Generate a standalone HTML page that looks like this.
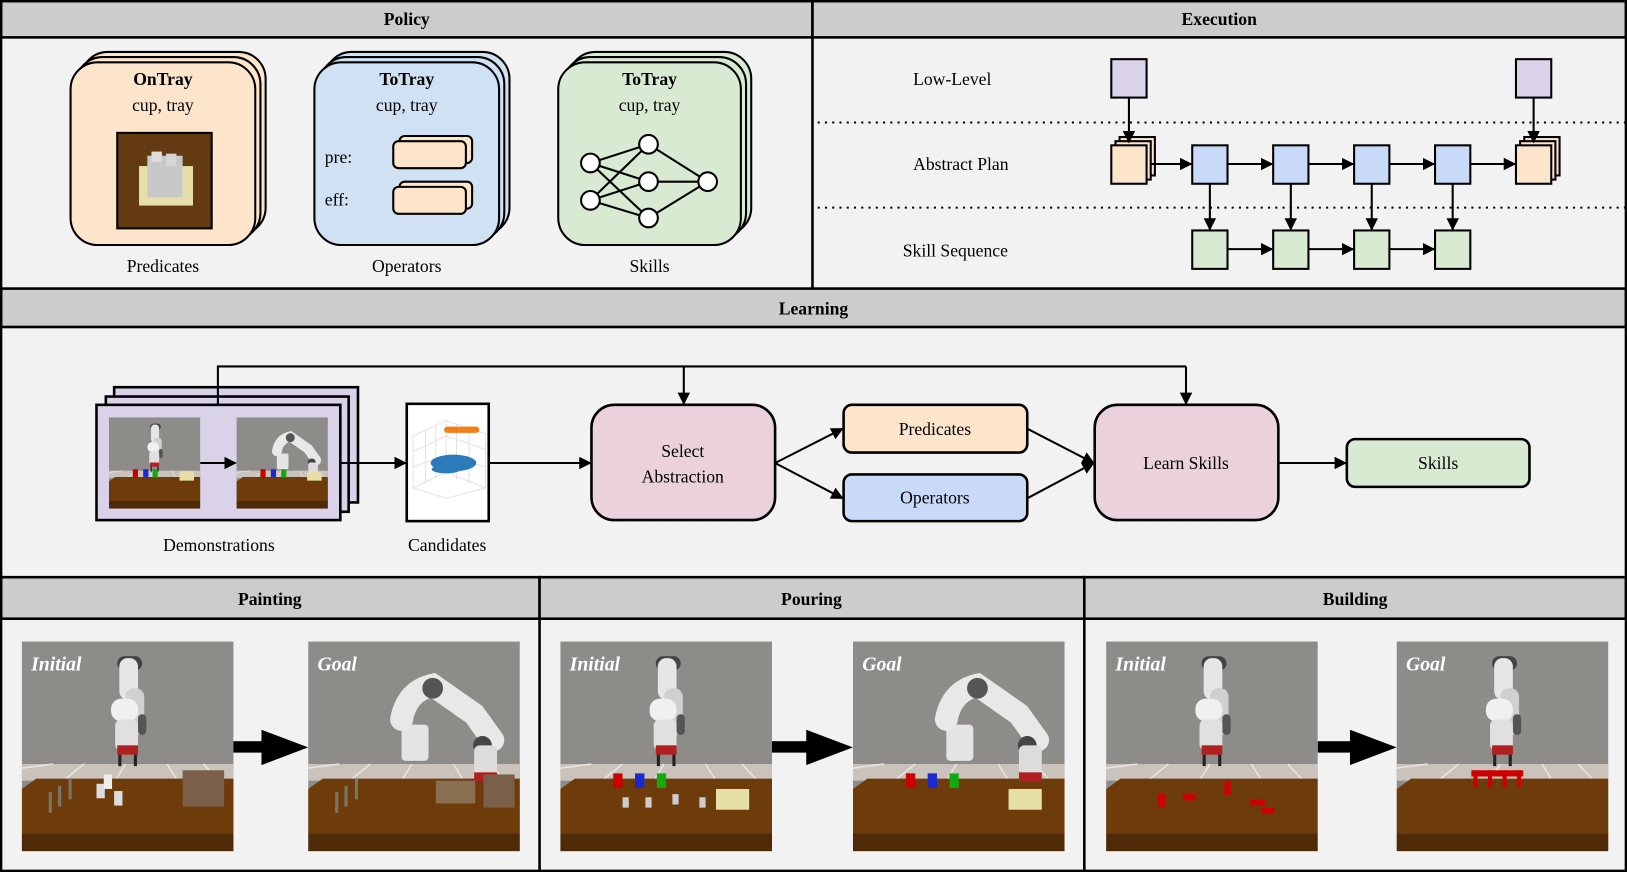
<!DOCTYPE html>
<html><head><meta charset="utf-8"><style>
html,body{margin:0;padding:0;background:#f2f2f2}
svg{display:block}
text{font-family:"Liberation Serif",serif;fill:#000}
</style></head><body>
<svg width="1627" height="872" viewBox="0 0 1568 840" preserveAspectRatio="none" xmlns="http://www.w3.org/2000/svg">
<defs>
<marker id="ah" viewBox="0 0 10 10" refX="9" refY="5" markerWidth="6" markerHeight="6" orient="auto"><path d="M0,0 L10,5 L0,10 z" fill="#000"/></marker>
<symbol id="bg" viewBox="0 0 204 202" preserveAspectRatio="none">
<rect width="204" height="202" fill="#8e8c89"/>
<rect y="118" width="204" height="16" fill="#c9c3bc"/>
<path d="M0,122 L30,118 M40,134 L60,118 M90,134 L100,118 M150,134 L140,118 M190,134 L175,118" stroke="#e8e4df" stroke-width="1.5"/>
<path d="M14,132 L204,132 L204,185 L0,185 L0,142 z" fill="#6e3b0a"/>
<rect y="185" width="204" height="17" fill="#4f2a07"/>
</symbol>
<symbol id="robotUp" viewBox="0 0 204 202" preserveAspectRatio="none">
<rect x="92" y="14" width="24" height="14" rx="7" fill="#444"/>
<rect x="94" y="16" width="18" height="40" rx="8" fill="#e6e6e6"/>
<rect x="100" y="45" width="18" height="45" rx="8" fill="#d0d0d0"/>
<rect x="112" y="70" width="8" height="20" rx="4" fill="#555"/>
<rect x="86" y="55" width="26" height="22" rx="10" fill="#f0f0f0"/>
<rect x="90" y="75" width="22" height="30" rx="6" fill="#e0e0e0"/>
<rect x="92" y="100" width="20" height="9" fill="#b02020"/>
<rect x="93" y="109" width="3" height="11" fill="#222"/><rect x="108" y="109" width="3" height="11" fill="#222"/>
</symbol>
<symbol id="robotBent" viewBox="0 0 204 202" preserveAspectRatio="none">
<rect x="90" y="80" width="26" height="35" rx="4" fill="#e4e4e4"/>
<path d="M90,75 Q95,48 120,42 L160,70 L178,95" stroke="#e8e8e8" stroke-width="22" fill="none" stroke-linecap="round"/>
<circle cx="120" cy="45" r="10" fill="#555"/>
<circle cx="168" cy="100" r="9" fill="#444"/>
<rect x="160" y="100" width="22" height="28" rx="5" fill="#dcdcdc"/>
<rect x="160" y="126" width="22" height="9" fill="#b02020"/>
</symbol>
</defs>

<rect x="0" y="0" width="1568" height="840" fill="#f2f2f2"/>
<g fill="#cccccc" stroke="#000" stroke-width="2.5">
<rect x="1" y="1" width="782" height="35"/><rect x="783" y="1" width="784" height="35"/>
<rect x="1" y="278" width="1566" height="37"/>
<rect x="1" y="556" width="519" height="40"/><rect x="520" y="556" width="525" height="40"/><rect x="1045" y="556" width="522" height="40"/>
</g>
<g stroke="#000" stroke-width="2.5" fill="none">
<rect x="1" y="1" width="1566" height="838"/>
<line x1="783" y1="36" x2="783" y2="278"/>
<line x1="520" y1="596" x2="520" y2="839"/><line x1="1045" y1="596" x2="1045" y2="839"/>
</g>
<g font-weight="bold" font-size="17" text-anchor="middle">
<text x="392" y="24">Policy</text><text x="1175" y="24">Execution</text>
<text x="784" y="303">Learning</text>
<text x="260" y="583">Painting</text><text x="782" y="583">Pouring</text><text x="1306" y="583">Building</text>
</g>

<g stroke="#000" stroke-width="2">
<g fill="#fde5cc">
<rect x="78" y="50" width="178" height="176" rx="26"/><rect x="73" y="55" width="178" height="176" rx="26"/><rect x="68" y="60" width="178" height="176" rx="26"/>
</g>
<g fill="#cfe1f3">
<rect x="313" y="50" width="178" height="176" rx="26"/><rect x="308" y="55" width="178" height="176" rx="26"/><rect x="303" y="60" width="178" height="176" rx="26"/>
</g>
<g fill="#d9ead3">
<rect x="548" y="50" width="176" height="176" rx="26"/><rect x="543" y="55" width="176" height="176" rx="26"/><rect x="538" y="60" width="176" height="176" rx="26"/>
</g>
</g>
<g font-size="17" text-anchor="middle">
<text x="157" y="82" font-weight="bold">OnTray</text><text x="157" y="107">cup, tray</text>
<text x="392" y="82" font-weight="bold">ToTray</text><text x="392" y="107">cup, tray</text>
<text x="626" y="82" font-weight="bold">ToTray</text><text x="626" y="107">cup, tray</text>
<text x="157" y="262">Predicates</text><text x="392" y="262">Operators</text><text x="626" y="262">Skills</text>
</g>
<rect x="113" y="128" width="91" height="92" fill="#633a12" stroke="#000" stroke-width="2"/>
<rect x="134" y="160" width="52" height="38" fill="#e6e0a8"/>
<rect x="142" y="150" width="34" height="40" fill="#c8c8c8"/><rect x="146" y="146" width="10" height="10" fill="#ddd"/><rect x="160" y="148" width="10" height="12" fill="#d6d6d6"/>
<g font-size="17"><text x="313" y="157">pre:</text><text x="313" y="198">eff:</text></g>
<g fill="#fde5cc" stroke="#000" stroke-width="2">
<rect x="385" y="131" width="70" height="26" rx="5"/><rect x="379" y="136" width="70" height="26" rx="5"/>
<rect x="385" y="175" width="70" height="26" rx="5"/><rect x="379" y="180" width="70" height="26" rx="5"/>
</g>
<g stroke="#000" stroke-width="2">
<line x1="569" y1="157" x2="625" y2="139"/><line x1="569" y1="157" x2="625" y2="175"/><line x1="569" y1="157" x2="625" y2="210"/>
<line x1="569" y1="193" x2="625" y2="139"/><line x1="569" y1="193" x2="625" y2="175"/><line x1="569" y1="193" x2="625" y2="210"/>
<line x1="625" y1="139" x2="682" y2="175"/><line x1="625" y1="175" x2="682" y2="175"/><line x1="625" y1="210" x2="682" y2="175"/>
<g fill="#fff"><circle cx="569" cy="157" r="9"/><circle cx="569" cy="193" r="9"/><circle cx="625" cy="139" r="9"/><circle cx="625" cy="175" r="9"/><circle cx="625" cy="210" r="9"/><circle cx="682" cy="175" r="9"/></g>
</g>

<!-- Execution -->
<g font-size="17"><text x="880" y="82">Low-Level</text><text x="880" y="164">Abstract Plan</text><text x="870" y="247">Skill Sequence</text></g>
<g stroke="#000" stroke-width="2" stroke-dasharray="2,5"><line x1="788" y1="118" x2="1568" y2="118"/><line x1="788" y1="200" x2="1568" y2="200"/></g>
<g stroke="#000" stroke-width="2">
<g fill="#d9d2e9"><rect x="1071" y="57" width="34" height="37"/><rect x="1461" y="57" width="34" height="37"/></g>
<g fill="#fde5cc"><rect x="1079" y="132" width="34" height="37"/><rect x="1075" y="136" width="34" height="37"/><rect x="1071" y="140" width="34" height="37"/>
<rect x="1469" y="132" width="34" height="37"/><rect x="1465" y="136" width="34" height="37"/><rect x="1461" y="140" width="34" height="37"/></g>
<g fill="#c9daf8"><rect x="1149" y="140" width="34" height="37"/><rect x="1227" y="140" width="34" height="37"/><rect x="1305" y="140" width="34" height="37"/><rect x="1383" y="140" width="34" height="37"/></g>
<g fill="#d9ead3"><rect x="1149" y="222" width="34" height="37"/><rect x="1227" y="222" width="34" height="37"/><rect x="1305" y="222" width="34" height="37"/><rect x="1383" y="222" width="34" height="37"/></g>
</g>
<g stroke="#000" stroke-width="2" marker-end="url(#ah)">
<line x1="1088" y1="94" x2="1088" y2="137"/><line x1="1478" y1="94" x2="1478" y2="137"/>
<line x1="1109" y1="158" x2="1148" y2="158"/><line x1="1183" y1="158" x2="1226" y2="158"/><line x1="1261" y1="158" x2="1304" y2="158"/><line x1="1339" y1="158" x2="1382" y2="158"/><line x1="1417" y1="158" x2="1460" y2="158"/>
<line x1="1166" y1="177" x2="1166" y2="221"/><line x1="1244" y1="177" x2="1244" y2="221"/><line x1="1322" y1="177" x2="1322" y2="221"/><line x1="1400" y1="177" x2="1400" y2="221"/>
<line x1="1183" y1="240" x2="1226" y2="240"/><line x1="1261" y1="240" x2="1304" y2="240"/><line x1="1339" y1="240" x2="1382" y2="240"/>
</g>

<!-- Learning -->
<g fill="#d9d2e9" stroke="#000" stroke-width="2.5">
<rect x="110" y="373" width="235" height="111"/><rect x="102" y="382" width="234" height="111"/><rect x="93" y="390" width="235" height="111"/>
</g>
<use href="#bg" x="105" y="402" width="88" height="88"/>
<use href="#robotUp" x="105" y="402" width="88" height="88"/>
<use href="#bg" x="228" y="402" width="88" height="88"/>
<use href="#robotBent" x="228" y="402" width="88" height="88"/>
<g><rect x="128" y="452" width="5" height="8" fill="#c00"/><rect x="138" y="452" width="5" height="8" fill="#1a2ad0"/><rect x="147" y="452" width="5" height="8" fill="#1a1"/><rect x="173" y="454" width="14" height="9" fill="#e6e0a8"/>
<rect x="251" y="452" width="5" height="8" fill="#c00"/><rect x="261" y="452" width="5" height="8" fill="#1a2ad0"/><rect x="271" y="452" width="5" height="8" fill="#1a1"/><rect x="296" y="455" width="14" height="8" fill="#e6e0a8"/></g>
<rect x="392" y="389" width="79" height="113" fill="#fff" stroke="#000" stroke-width="2.5"/>
<g stroke="#ddd" stroke-width="0.8" fill="none"><path d="M398,420 L430,405 L468,418 L468,470 L430,480 L398,470 z M398,420 L398,470 M430,405 L430,455 M398,470 L430,455 L468,470 M410,414 L410,465 M420,410 L420,460 M440,408 L440,462 M452,412 L452,466 M398,435 L430,420 L468,433 M398,450 L430,438 L468,450"/></g>
<g fill="#f47f17"><rect x="428" y="411" width="34" height="6" rx="3"/></g>
<g fill="#2b7bba"><ellipse cx="437" cy="446" rx="22" ry="8"/><ellipse cx="430" cy="452" rx="14" ry="4"/></g>
<g font-size="17" text-anchor="middle"><text x="211" y="531">Demonstrations</text><text x="431" y="531">Candidates</text></g>
<g fill="#ead1dc" stroke="#000" stroke-width="2.5"><rect x="570" y="390" width="177" height="111" rx="22"/><rect x="1055" y="390" width="177" height="111" rx="22"/></g>
<rect x="813" y="390" width="177" height="46" rx="8" fill="#fde5cc" stroke="#000" stroke-width="2.5"/>
<rect x="813" y="457" width="177" height="45" rx="8" fill="#c9daf8" stroke="#000" stroke-width="2.5"/>
<rect x="1298" y="423" width="176" height="46" rx="8" fill="#d9ead3" stroke="#000" stroke-width="2.5"/>
<g font-size="17" text-anchor="middle">
<text x="658" y="440">Select</text><text x="658" y="465">Abstraction</text>
<text x="901" y="419">Predicates</text><text x="901" y="485">Operators</text>
<text x="1143" y="452">Learn Skills</text><text x="1386" y="452">Skills</text>
</g>
<g stroke="#000" stroke-width="2" fill="none">
<polyline points="210,390 210,353 1143,353"/>
</g>
<g stroke="#000" stroke-width="2" marker-end="url(#ah)">
<line x1="659" y1="353" x2="659" y2="389"/><line x1="1143" y1="353" x2="1143" y2="389"/>
<line x1="193" y1="446" x2="227" y2="446"/>
<line x1="328" y1="446" x2="391" y2="446"/>
<line x1="471" y1="446" x2="569" y2="446"/>
<line x1="747" y1="446" x2="812" y2="413"/><line x1="747" y1="446" x2="812" y2="480"/>
<line x1="990" y1="413" x2="1054" y2="446"/><line x1="990" y1="480" x2="1054" y2="446"/>
<line x1="1232" y1="446" x2="1297" y2="446"/>
</g>

<g>
<use href="#bg" x="21" y="618" width="204" height="202"/><use href="#robotUp" x="21" y="618" width="204" height="202"/>
<use href="#bg" x="297" y="618" width="204" height="202"/><use href="#robotBent" x="297" y="618" width="204" height="202"/>
<use href="#bg" x="540" y="618" width="204" height="202"/><use href="#robotUp" x="540" y="618" width="204" height="202"/>
<use href="#bg" x="822" y="618" width="204" height="202"/><use href="#robotBent" x="822" y="618" width="204" height="202"/>
<use href="#bg" x="1066" y="618" width="204" height="202"/><use href="#robotUp" x="1066" y="618" width="204" height="202"/>
<use href="#bg" x="1346" y="618" width="204" height="202"/><use href="#robotUp" x="1346" y="618" width="204" height="202"/>
</g>
<g>
<rect x="176" y="742" width="40" height="35" fill="#7a6048"/><rect x="466" y="746" width="30" height="32" fill="#7a6048"/><rect x="420" y="752" width="38" height="22" fill="#8a6e50"/>
<rect x="93" y="755" width="8" height="14" fill="#ddd"/><rect x="100" y="746" width="8" height="14" fill="#eee"/><rect x="110" y="762" width="8" height="14" fill="#ddd"/>
<rect x="66" y="750" width="3" height="20" fill="#776"/><rect x="56" y="757" width="3" height="20" fill="#776"/><rect x="47" y="763" width="3" height="20" fill="#776"/>
<rect x="342" y="750" width="3" height="20" fill="#776"/><rect x="332" y="757" width="3" height="20" fill="#776"/><rect x="323" y="763" width="3" height="20" fill="#776"/>
<rect x="591" y="745" width="9" height="14" fill="#c00"/><rect x="612" y="745" width="9" height="14" fill="#1a2ad0"/><rect x="633" y="745" width="9" height="14" fill="#1a1"/><rect x="690" y="760" width="32" height="20" fill="#e6e0a8"/>
<rect x="600" y="768" width="6" height="10" fill="#ccc"/><rect x="622" y="768" width="6" height="10" fill="#ccc"/><rect x="648" y="765" width="6" height="10" fill="#ccc"/><rect x="674" y="768" width="6" height="10" fill="#ccc"/>
<rect x="873" y="745" width="9" height="14" fill="#c00"/><rect x="894" y="745" width="9" height="14" fill="#1a2ad0"/><rect x="915" y="745" width="9" height="14" fill="#1a1"/><rect x="972" y="760" width="32" height="20" fill="#e6e0a8"/>
<rect x="1116" y="765" width="7" height="12" fill="#c00"/><rect x="1140" y="765" width="12" height="6" fill="#c00"/><rect x="1180" y="752" width="6" height="14" fill="#c00"/><rect x="1205" y="770" width="14" height="6" fill="#c00"/><rect x="1216" y="778" width="12" height="6" fill="#c00"/>
<rect x="1418" y="742" width="50" height="6" fill="#c00"/><rect x="1420" y="742" width="4" height="16" fill="#c00"/><rect x="1434" y="742" width="4" height="16" fill="#c00"/><rect x="1448" y="742" width="4" height="16" fill="#c00"/><rect x="1462" y="742" width="4" height="16" fill="#c00"/>
</g>
<g font-size="19" font-style="italic" font-weight="bold">
<text x="30" y="646" style="fill:#fff">Initial</text><text x="306" y="646" style="fill:#fff">Goal</text>
<text x="549" y="646" style="fill:#fff">Initial</text><text x="831" y="646" style="fill:#fff">Goal</text>
<text x="1075" y="646" style="fill:#fff">Initial</text><text x="1355" y="646" style="fill:#fff">Goal</text>
</g>
<g fill="#000">
<rect x="225" y="714" width="30" height="11"/><path d="M252,703 L297,720 L252,737 z"/>
<rect x="744" y="714" width="36" height="11"/><path d="M777,703 L822,720 L777,737 z"/>
<rect x="1270" y="714" width="34" height="11"/><path d="M1301,703 L1346,720 L1301,737 z"/>
</g>
</svg>
</body></html>
